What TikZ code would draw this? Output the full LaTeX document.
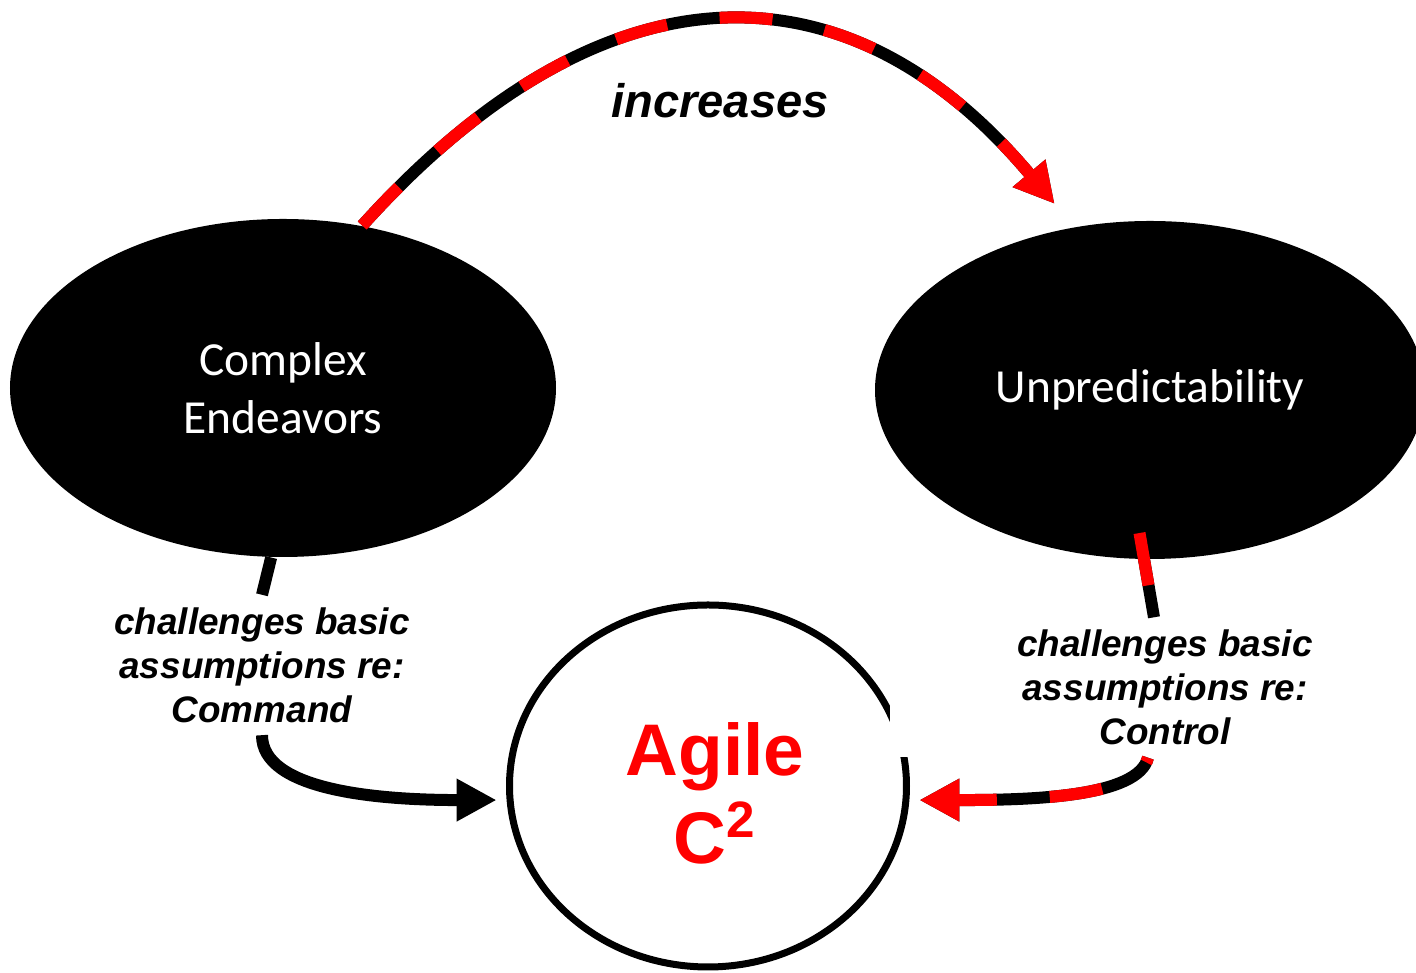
\documentclass[tikz,border=0pt]{standalone}
\usepackage{fontspec}
\setmainfont{Liberation Sans}
\newfontfamily\carlito{Carlito}
\usetikzlibrary{shapes.geometric,arrows.meta}

\tikzset{
	blob/.style={ellipse, fill=black, text=white, inner sep=0, align=center,
		minimum height=3.38cm, font=\carlito\fontsize{13.5}{16.5}\selectfont},
	claim/.style={fill=white, inner xsep=0, inner ysep=0.12cm, align=center,
		font=\bfseries\itshape\fontsize{10.5}{12.5}\selectfont},
	fatline/.style={line width=0.12cm},
	bigtip/.style={-{Triangle[length=0.4cm,width=0.4cm]}},
	rbdash/.style={fatline, bigtip, red, dash pattern=on 0.53cm off 0.53cm, #1,
		preaction={draw=black, solid, fatline, bigtip, #1}},
	rbdash/.default={}
}

\begin{document}
\begin{tikzpicture}
	\useasboundingbox (0,0) rectangle (14.16,9.73);
	% causes and result
	\node[blob, minimum width=5.46cm] (cmplx) at (2.83,5.85) {Complex\\Endeavors};
	\node[blob, minimum width=5.5cm] (unpred) at (11.5,5.83) {Unpredictability};
	\node[ellipse, draw, line width=0.07cm, minimum width=3.97cm, minimum height=3.62cm] (agile) at (7.08,1.87) {};
	\node[inner sep=0, text=red, align=center, font=\bfseries\fontsize{20.8}{25}\selectfont] (agiletxt) at (7.15,1.795) {Agile\\C\textsuperscript{2}};
	% labels
	\node[inner sep=0, font=\bfseries\itshape\fontsize{13.4}{16}\selectfont] (incr) at (7.2,8.72) {increases};
	\node[claim] (cmd) at (2.62,3.08) {challenges basic\\assumptions re:\\Command};
	\node[claim, minimum width=5.5cm] (ctl) at (11.65,2.855) {challenges basic\\assumptions re:\\Control};
	% connectors
	\draw[rbdash={shorten >=0.3cm}] (cmplx.64) .. controls +(48:3.57) and +(130:3.56) .. (unpred.115);
	\draw[fatline] (cmplx.266) -- (cmd.north);
	\draw[fatline, bigtip, shorten >=0.1cm] (cmd.south) .. controls +(0,-0.55) and +(-1.3,0) .. (agile.184);
	\draw[rbdash={-, shorten <=-0.27cm}] (unpred.268) -- ([xshift=-0.11cm]ctl.north);
	\draw[rbdash={shorten >=0.1cm}, dash phase=0.48cm] ([xshift=-0.17cm]ctl.south) .. controls +(-0.1,-0.4) and +(1.2,0) .. (agile.356);
\end{tikzpicture}
\end{document}
